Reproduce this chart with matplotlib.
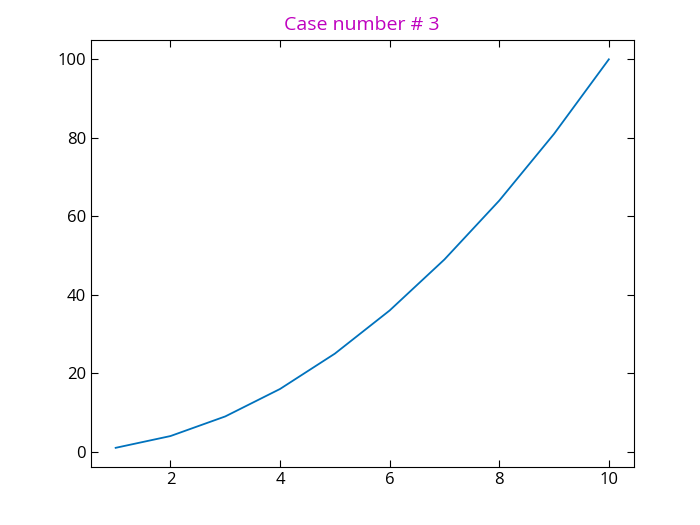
import numpy as np
import matplotlib
matplotlib.use("Agg")
import matplotlib.pyplot as plt

plt.rcParams['font.family'] = ['Open Sans', 'DejaVu Sans']

# data
x = [1, 2, 3, 4, 5, 6, 7, 8, 9, 10]
y = [1, 4, 9, 16, 25, 36, 49, 64, 81, 100]

fig, ax = plt.subplots(figsize=(7, 5.25), dpi=100)
fig.subplots_adjust(left=0.13, right=0.905, bottom=0.11, top=0.924)

ax.plot(x, y, color='#0072BD', linewidth=1.3)

ax.tick_params(direction='in', top=True, right=True, labelsize=12, length=5)
ax.set_title('Case number # 3', color='m', fontsize=14, pad=7)

fig.savefig('out.png')
